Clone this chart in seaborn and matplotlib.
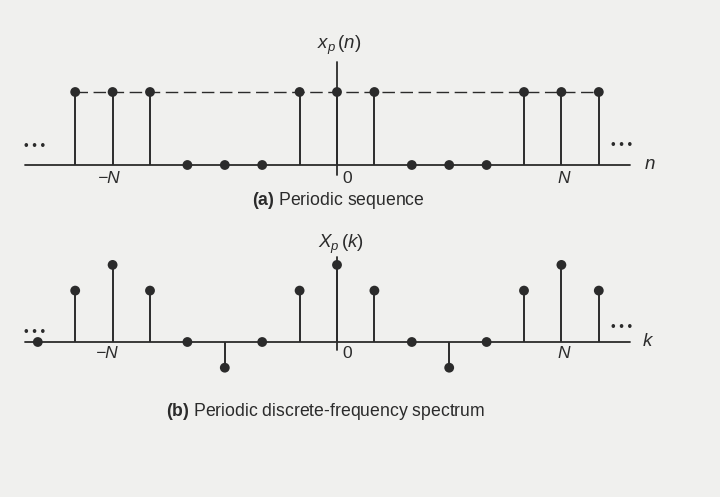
import matplotlib
matplotlib.use("Agg")
import matplotlib.pyplot as plt
import seaborn as sns
import pandas as pd

# ---- data ----
n_idx = [-7, -6, -5, -4, -3, -2, -1, 0, 1, 2, 3, 4, 5, 6, 7]
xp_vals = [1, 1, 1, 0, 0, 0, 1, 1, 1, 0, 0, 0, 1, 1, 1]
k_idx = [-8, -7, -6, -5, -4, -3, -2, -1, 0, 1, 2, 3, 4, 5, 6, 7]
Xp_vals = [0, 2, 3, 2, 0, -1, 0, 2, 3, 2, 0, -1, 0, 2, 3, 2]
N_period = 6
tick_pos = [-N_period, 0, N_period]
tick_txt = ["\u2212N", "0", "N"]

sns.set_theme(style="white")
plt.rcParams["font.family"] = ["Liberation Sans", "DejaVu Sans"]
plt.rcParams["mathtext.fontset"] = "custom"
plt.rcParams["mathtext.it"] = "Liberation Sans:italic"
plt.rcParams["mathtext.rm"] = "Liberation Sans"
plt.rcParams["mathtext.bf"] = "Liberation Sans:bold"

BG = "#f0f0ee"
INK = "#2b2b2b"
W, H = 720, 497
fig = plt.figure(figsize=(7.2, 4.97), dpi=100, facecolor=BG)

# x mapping: pixel = 337 + 37.4*n
x0, sx = 337.0, 37.4
xlim = (-x0 / sx, (W - x0) / sx)

def make_ax(top_px, bot_px, base_px, unit_px):
    ax = fig.add_axes([0, 1 - bot_px / H, 1, (bot_px - top_px) / H])
    ax.set_facecolor("none")
    ax.set_xlim(*xlim)
    ax.set_ylim(-(bot_px - base_px) / unit_px, (base_px - top_px) / unit_px)
    ax.axis("off")
    return ax

def px2n(p):
    return (p - x0) / sx

DOTS = "\u2022 \u2022 \u2022"
DOT_FS = 9.5

# ---------- panel (a) ----------
axa = make_ax(0, 230, 165, 73)
dfa = pd.DataFrame({"n": n_idx, "x": xp_vals})
axa.plot([px2n(25), px2n(630)], [0, 0], color=INK, lw=1.3, zorder=1)
axa.plot([0, 0], [1.41, -0.14], color=INK, lw=1.3, zorder=1)
nz = dfa[dfa.x != 0]
axa.vlines(nz.n, 0, nz.x, color=INK, lw=1.4, zorder=2)
sns.lineplot(data=nz, x="n", y="x", ax=axa, color=INK, lw=1.0,
             dashes=False, linestyle=(0, (9, 4)), zorder=1)
sns.scatterplot(data=dfa, x="n", y="x", ax=axa, color=INK, s=50,
                edgecolor="none", zorder=3, legend=False)
axa.text(0.05, 1.64, r"$x_p\,(n)$", ha="center", va="center", fontsize=13.5, color=INK)
axa.text(px2n(645), 0, "n", ha="left", va="center", fontsize=13.5,
         style="italic", color=INK)
axa.text(px2n(35), 0.25, DOTS, ha="center", va="center",
         fontsize=DOT_FS, color=INK)
axa.text(px2n(622), 0.26, DOTS, ha="center", va="center",
         fontsize=DOT_FS, color=INK)
axa.text(-N_period - 0.1, -0.18, tick_txt[0], ha="center", va="center",
         fontsize=12.5, style="italic", color=INK)
axa.text(0.15, -0.18, tick_txt[1], ha="left", va="center", fontsize=12.5, color=INK)
axa.text(N_period + 0.05, -0.18, tick_txt[2], ha="center", va="center",
         fontsize=12.5, style="italic", color=INK)
axa.text(px2n(338), -(201 - 165) / 73, r"$\mathbf{(a)}$ Periodic sequence",
         ha="center", va="center", fontsize=12.7, color=INK)

# ---------- panel (b) ----------
axb = make_ax(230, 497, 342, 25.7)
dfb = pd.DataFrame({"k": k_idx, "X": Xp_vals})
axb.plot([px2n(25), px2n(630)], [0, 0], color=INK, lw=1.3, zorder=1)
axb.plot([0, 0], [3.3, -0.31], color=INK, lw=1.3, zorder=1)
nzb = dfb[dfb.X != 0]
axb.vlines(nzb.k, 0, nzb.X, color=INK, lw=1.4, zorder=2)
sns.scatterplot(data=dfb, x="k", y="X", ax=axb, color=INK, s=50,
                edgecolor="none", zorder=3, legend=False)
axb.text(0.1, (342 - 244) / 25.7, r"$X_p\,(k)$", ha="center", va="center",
         fontsize=13.5, color=INK)
axb.text(px2n(643), 0, "k", ha="left", va="center", fontsize=13.5,
         style="italic", color=INK)
axb.text(px2n(35), (342 - 333) / 25.7, DOTS, ha="center", va="center",
         fontsize=DOT_FS, color=INK)
axb.text(px2n(622), (342 - 328) / 25.7, DOTS, ha="center", va="center",
         fontsize=DOT_FS, color=INK)
yl = -(353 - 342) / 25.7
axb.text(-N_period - 0.15, yl, tick_txt[0], ha="center", va="center",
         fontsize=12.5, style="italic", color=INK)
axb.text(0.15, yl, tick_txt[1], ha="left", va="center", fontsize=12.5, color=INK)
axb.text(N_period + 0.05, yl, tick_txt[2], ha="center", va="center",
         fontsize=12.5, style="italic", color=INK)
axb.text(px2n(326), -(412 - 342) / 25.7,
         r"$\mathbf{(b)}$ Periodic discrete-frequency spectrum",
         ha="center", va="center", fontsize=12.7, color=INK)

fig.savefig("out.png", dpi=100, facecolor=BG)
